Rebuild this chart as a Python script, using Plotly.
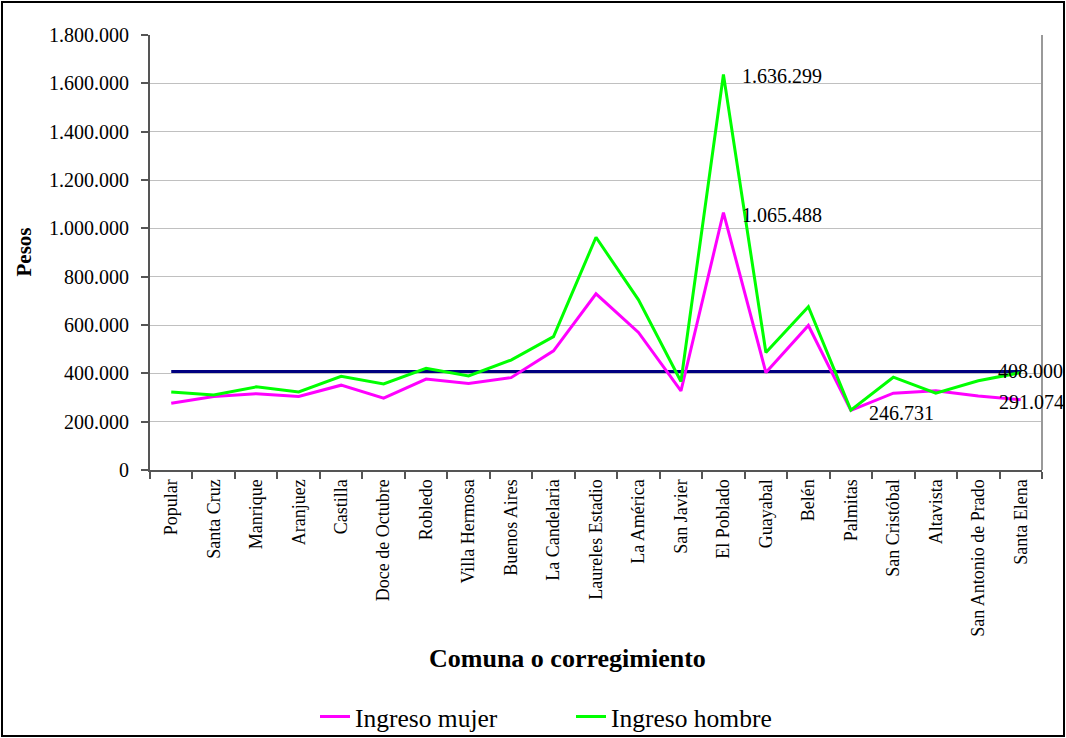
import plotly.graph_objects as go

comunas = ["Popular", "Santa Cruz", "Manrique", "Aranjuez", "Castilla", "Doce de Octubre",
           "Robledo", "Villa Hermosa", "Buenos Aires", "La Candelaria", "Laureles Estadio",
           "La América", "San Javier", "El Poblado", "Guayabal", "Belén", "Palmitas",
           "San Cristóbal", "Altavista", "San Antonio de Prado", "Santa Elena"]
ingreso_mujer = [276000, 304000, 316000, 304000, 351000, 297000, 376000, 358000, 382000, 493000,
                 729000, 569000, 327000, 1065488, 403000, 598000, 246731, 318000, 328000, 306000, 291074]
ingreso_hombre = [323000, 310000, 344000, 323000, 388000, 356000, 421000, 389000, 455000, 552000,
                  963000, 704000, 366000, 1636299, 486000, 676000, 248000, 384000, 318000, 369000, 403000]
referencia = [408000] * len(comunas)

FONT = "Liberation Serif"
W, H = 1066, 738
L, T = 150, 35
PW, PH = 892, 435
R = W - L - PW
B = H - T - PH

fig = go.Figure()
fig.add_trace(go.Scatter(x=comunas, y=referencia, mode="lines", name="Referencia",
                         line=dict(color="#000080", width=3), showlegend=False))
fig.add_trace(go.Scatter(x=comunas, y=ingreso_mujer, mode="lines", name="Ingreso mujer",
                         line=dict(color="#FF00FF", width=3)))
fig.add_trace(go.Scatter(x=comunas, y=ingreso_hombre, mode="lines", name="Ingreso hombre",
                         line=dict(color="#00FF00", width=3)))


def lab(txt, x, y, xshift=0, yshift=0):
    fig.add_annotation(x=x, y=y, text=txt, showarrow=False, xanchor="left", yanchor="middle",
                       xshift=xshift, yshift=yshift,
                       font=dict(family=FONT, size=20, color="black"))


lab("1.636.299", comunas[13], ingreso_hombre[13], xshift=17, yshift=-1)
lab("1.065.488", comunas[13], ingreso_mujer[13], xshift=17, yshift=-2)
lab("246.731", comunas[16], ingreso_mujer[16], xshift=16, yshift=-3)
lab("408.000", comunas[20], referencia[20], xshift=-25, yshift=0)
lab("291.074", comunas[20], ingreso_mujer[20], xshift=-24, yshift=-2)

# axis titles as annotations for exact placement
fig.add_annotation(xref="paper", yref="paper", x=(567 - L) / PW, y=-188 / PH,
                   text="<b>Comuna o corregimiento</b>", showarrow=False,
                   xanchor="center", yanchor="middle", font=dict(family=FONT, size=26, color="black"))
fig.add_annotation(xref="paper", yref="paper", x=(23 - L) / PW, y=0.5,
                   text="<b>Pesos</b>", showarrow=False, textangle=-90,
                   xanchor="center", yanchor="middle", font=dict(family=FONT, size=21, color="black"))

fig.update_layout(
    width=W, height=H,
    paper_bgcolor="white", plot_bgcolor="white",
    separators=",.",
    margin=dict(l=L, r=R, t=T, b=B, pad=0),
    font=dict(family=FONT, size=18, color="black"),
    showlegend=True,
    legend=dict(orientation="h", xref="container", yref="container",
                x=315 / W, xanchor="left", y=1 - 717 / H, yanchor="middle",
                font=dict(family=FONT, size=25.5, color="black"), bgcolor="rgba(0,0,0,0)",
                entrywidth=211, entrywidthmode="pixels"),
    shapes=[
        dict(type="rect", xref="paper", yref="paper", x0=-(L - 2) / PW, x1=1 + (R - 2) / PW,
             y0=-(B - 2) / PH, y1=1 + (T - 2) / PH, line=dict(color="black", width=2)),
        dict(type="line", xref="paper", yref="paper", x0=1, x1=1, y0=0, y1=1,
             line=dict(color="#999", width=2)),
    ],
)
fig.update_xaxes(
    type="category", range=[-0.5, len(comunas) - 0.5], tickson="boundaries",
    ticks="outside", ticklen=7, tickcolor="#555", tickwidth=1.5,
    showline=True, linecolor="#555", linewidth=2, tickangle=-90,
    tickfont=dict(family=FONT, size=18, color="black"), showgrid=False,
)
fig.update_yaxes(
    range=[0, 1800000], dtick=200000, tickformat=",d", ticks="outside", ticklen=7,
    tickcolor="#555", tickwidth=1.5, ticklabelstandoff=8,
    showline=True, linecolor="#555", linewidth=2, gridcolor="#C0C0C0", gridwidth=1,
    tickfont=dict(family=FONT, size=20, color="black"), zeroline=False,
)

fig.write_html("out.html", config={"displayModeBar": False},
               post_script="document.body.style.margin='0';document.body.style.overflow='hidden';")
